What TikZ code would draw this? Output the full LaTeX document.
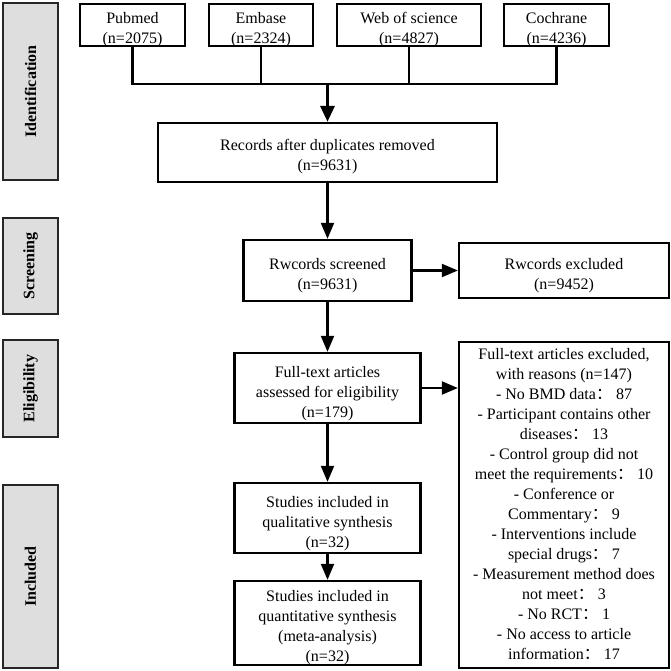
\documentclass[tikz,border=0pt]{standalone}
\usepackage{fontspec}
\setmainfont{Liberation Serif}
\newfontfamily\cjkfont{Noto Sans CJK SC}
\usetikzlibrary{arrows.meta}
\definecolor{sidegray}{HTML}{DEDEDE}
\newcommand{\fcolon}{{\cjkfont ：}}
\begin{document}
\begin{tikzpicture}[x=1pt,y=-1pt,
  box/.style={draw, line width=2.3pt, inner sep=0pt},
  txt/.style={align=center, inner sep=0pt, font=\fontsize{16}{20}\selectfont},
  side/.style={draw=black!85, fill=sidegray, line width=2.8pt, rotate=90,
    minimum height=55pt, inner sep=0pt, font=\fontsize{16}{20}\selectfont\bfseries},
  conn/.style={line width=2.1pt},
  arr/.style={line width=2.1pt, -{Triangle[width=13pt,length=16pt]}},
  bigarr/.style={line width=3.2pt, -{Triangle[width=14pt,length=16pt]}}]
\fill[white] (0,0) rectangle (671,670);
\useasboundingbox (0,0) rectangle (671,670);

% side labels
\node[side, minimum width=177pt] (sid) at (30.5,91.5) {Identification};
\node[side, minimum width=96pt]  (ssc) at (30.5,266) {Screening};
\node[side, minimum width=97pt]  (sel) at (30.5,388.5) {Eligibility};
\node[side, minimum width=183pt] (sin) at (30.5,576.5) {Included};

% sources
\node[box, minimum width=105pt, minimum height=42pt] (pub) at (132.5,25) {};
\node[box, minimum width=104pt, minimum height=42pt] (emb) at (261,25) {};
\node[box, minimum width=144pt, minimum height=42pt] (wos) at (409,25) {};
\node[box, minimum width=105pt, minimum height=42pt] (coc) at (556.5,25) {};
\node[txt] (pubt) at ([yshift=-4.5pt]pub.center) {Pubmed\\(n=2075)};
\node[txt] (embt) at ([yshift=-4.5pt]emb.center) {Embase\\(n=2324)};
\node[txt] (wost) at ([yshift=-4.5pt]wos.center) {Web of science\\(n=4827)};
\node[txt] (coct) at ([yshift=-4.5pt]coc.center) {Cochrane\\(n=4236)};

% main flow boxes
\node[box, minimum width=339pt, minimum height=59pt] (rec) at (327.5,152.5) {};
\node[box, minimum width=168pt, minimum height=61pt] (scr) at (327.5,270.5) {};
\node[box, minimum width=210pt, minimum height=55pt] (exc) at (564,270.5) {};
\node[box, minimum width=186pt, minimum height=70pt] (ful) at (327.5,388) {};
\node[box, minimum width=210pt, minimum height=326pt] (rea) at (564,505) {};
\node[box, minimum width=186pt, minimum height=70pt] (qua) at (327.5,518) {};
\node[box, minimum width=186pt, minimum height=84pt] (qnt) at (327.5,623) {};

% texts
\node[txt] (rect) at ([yshift=-4pt]rec.center) {Records after duplicates removed\\(n=9631)};
\node[txt] (scrt) at ([yshift=-5pt]scr.center) {Rwcords screened\\(n=9631)};
\node[txt] (exct) at ([yshift=-5pt]exc.center) {Rwcords excluded\\(n=9452)};
\node[txt] (fult) at ([yshift=-5.5pt]ful.center) {Full-text articles\\assessed for eligibility\\(n=179)};
\node[txt] (reat) at ([yshift=1pt]rea.center) {Full-text articles excluded,\\with reasons (n=147)\\- No BMD data\fcolon{} 87\\- Participant contains other\\diseases\fcolon{} 13\\- Control group did not\\meet the requirements\fcolon{} 10\\- Conference or\\Commentary\fcolon{} 9\\- Interventions include\\special drugs\fcolon{} 7\\- Measurement method does\\not meet\fcolon{} 3\\- No RCT\fcolon{} 1\\- No access to article\\information\fcolon{} 17};
\node[txt] (quat) at ([yshift=-5.5pt]qua.center) {Studies included in\\qualitative synthesis\\(n=32)};
\node[txt] (qntt) at ([yshift=-5pt]qnt.center) {Studies included in\\quantitative synthesis\\(meta-analysis)\\(n=32)};

% connectors
\coordinate (bus) at (0,84);
\draw[conn] (pub.south) -- (pub.south |- bus) -- (coc.south |- bus) -- (coc.south);
\draw[conn] (emb.south) -- (emb.south |- bus);
\draw[conn] (wos.south) -- (wos.south |- bus);
\draw[bigarr] (rec.north |- bus) -- (rec.north);
\draw[arr] (rec.south) -- (scr.north);
\draw[arr] (scr.east) -- (scr.east -| exc.west);
\draw[arr] (scr.south) -- (ful.north);
\draw[arr] (ful.east) -- (ful.east -| rea.west);
\draw[arr] (ful.south) -- (qua.north);
\draw[arr] (qua.south) -- (qnt.north);
\end{tikzpicture}
\end{document}
